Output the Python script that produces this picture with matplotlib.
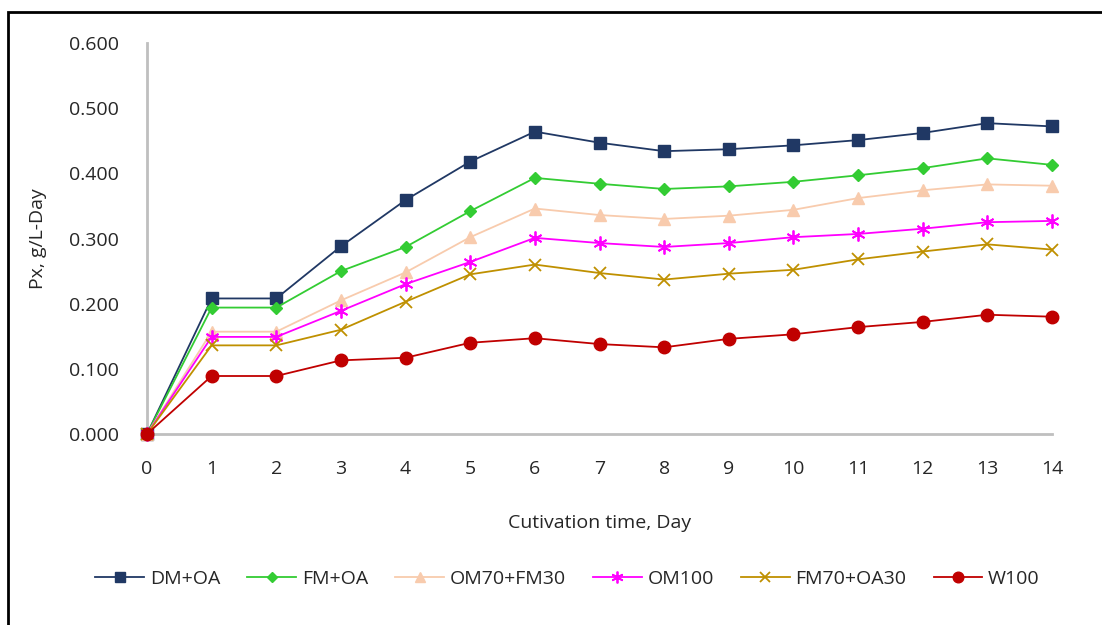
import matplotlib
matplotlib.use("Agg")
import matplotlib.pyplot as plt
from matplotlib.patches import Rectangle

plt.rcParams['font.family'] = ['Open Sans', 'DejaVu Sans']

days = list(range(15))

dm_oa = [0.000, 0.208, 0.208, 0.288, 0.359, 0.418, 0.464, 0.447, 0.434, 0.437, 0.443, 0.451, 0.462, 0.477, 0.472]
fm_oa = [0.000, 0.194, 0.194, 0.250, 0.287, 0.342, 0.393, 0.384, 0.376, 0.380, 0.387, 0.397, 0.408, 0.423, 0.413]
om70_fm30 = [0.000, 0.157, 0.157, 0.205, 0.248, 0.302, 0.346, 0.336, 0.330, 0.335, 0.344, 0.362, 0.374, 0.383, 0.381]
om100 = [0.000, 0.149, 0.149, 0.189, 0.230, 0.264, 0.301, 0.293, 0.287, 0.293, 0.302, 0.307, 0.315, 0.325, 0.327]
fm70_oa30 = [0.000, 0.136, 0.136, 0.160, 0.203, 0.245, 0.260, 0.247, 0.237, 0.246, 0.252, 0.268, 0.280, 0.291, 0.283]
w100 = [0.000, 0.089, 0.089, 0.113, 0.117, 0.140, 0.147, 0.138, 0.133, 0.146, 0.153, 0.164, 0.172, 0.183, 0.180]

series = [
    ("DM+OA", dm_oa, "#203864", "s", 8.5),
    ("FM+OA", fm_oa, "#33CC33", "D", 6.5),
    ("OM70+FM30", om70_fm30, "#F8CBAD", "^", 9),
    ("OM100", om100, "#FF00FF", (6, 2, 0), 10),
    ("FM70+OA30", fm70_oa30, "#BF9000", "x", 8),
    ("W100", w100, "#C00000", "o", 9),
]

TXT = "#262626"
FS = 14

fig = plt.figure(figsize=(11.02, 6.25), dpi=100)
ax = fig.add_axes([147 / 1102, 1 - 434 / 625, (1052 - 147) / 1102, (434 - 43) / 625])

for name, vals, color, marker, ms in series:
    if marker in ("x", (6, 2, 0)):
        ax.plot(days, vals, color=color, lw=1.3, marker=marker, ms=ms,
                mew=1.3, label=name, clip_on=False, zorder=3)
    else:
        ax.plot(days, vals, color=color, lw=1.3, marker=marker, ms=ms,
                mec=color, mfc=color, label=name, clip_on=False, zorder=3)

ax.set_xlim(0, 14)
ax.set_ylim(0, 0.6)
ax.set_xticks(days)
yt = [0.0, 0.1, 0.2, 0.3, 0.4, 0.5, 0.6]
ax.set_yticks(yt)
ax.set_yticklabels([f"{v:.3f}" for v in yt])
ax.tick_params(axis="both", length=0, labelsize=FS, colors=TXT)
ax.tick_params(axis="y", pad=20)
ax.tick_params(axis="x", pad=19)

for side in ("top", "right"):
    ax.spines[side].set_visible(False)
for side in ("left", "bottom"):
    ax.spines[side].set_color("#BFBFBF")
    ax.spines[side].set_linewidth(2)

ax.set_xlabel("Cutivation time, Day", fontsize=FS, color=TXT, labelpad=26)
ax.set_ylabel("Px, g/L-Day", fontsize=FS, color=TXT, labelpad=16)

handles, labels = ax.get_legend_handles_labels()
fig.legend(handles, labels, loc="center", bbox_to_anchor=(0.515, 1 - 579 / 625),
           ncol=6, frameon=False, fontsize=FS, handlelength=2.5, markerscale=0.85,
           columnspacing=1.4, handletextpad=0.3, labelcolor=TXT)

fig.patches.append(Rectangle((8 / 1102, -0.1), 1.2, 1 - 12 / 625 + 0.1,
                             transform=fig.transFigure, fill=False,
                             edgecolor="black", linewidth=2))

fig.savefig("out.png", dpi=100)
